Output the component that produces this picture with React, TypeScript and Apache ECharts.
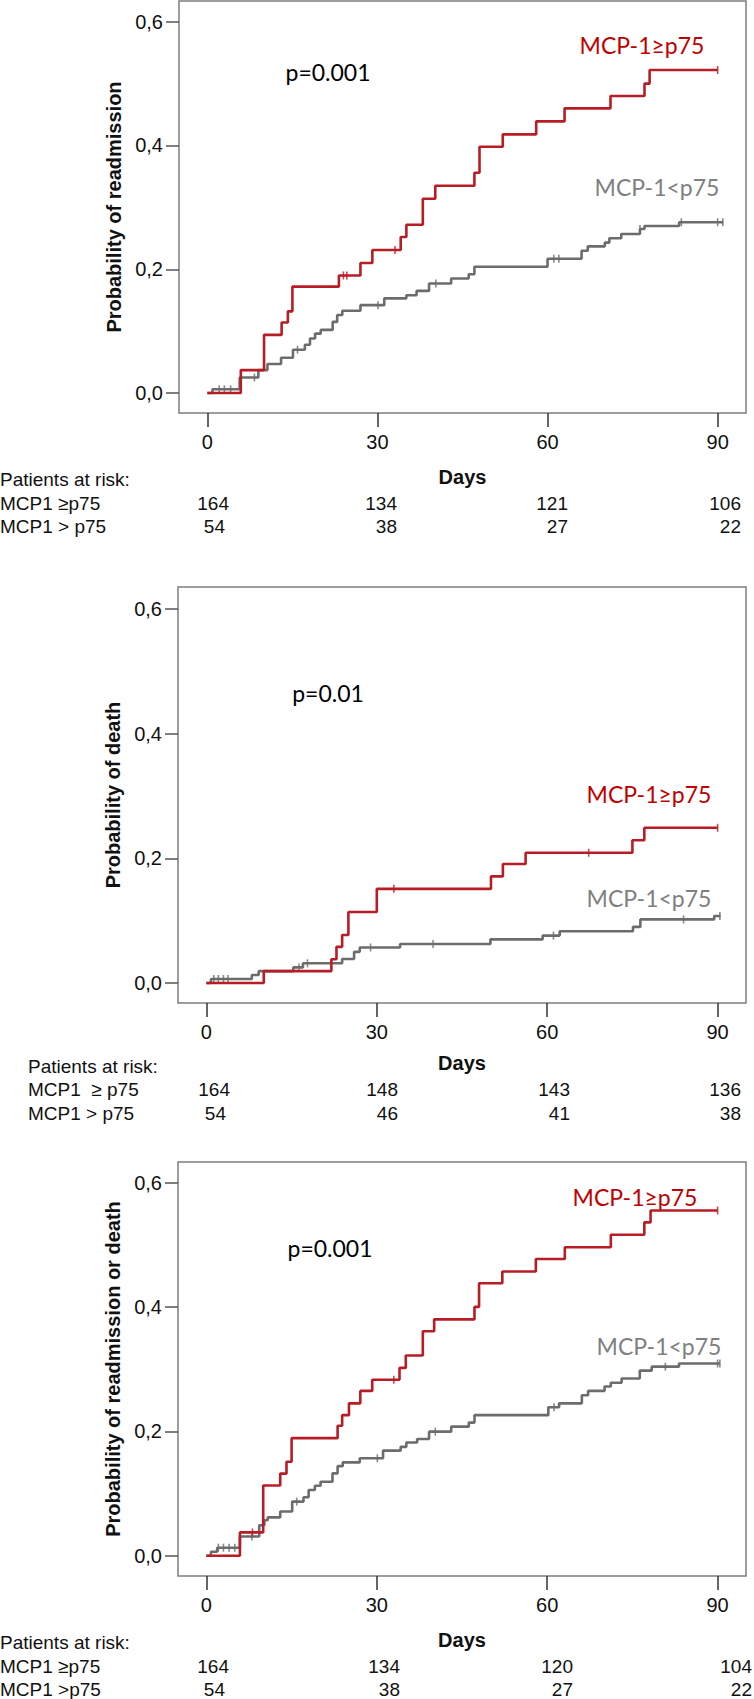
import React, { useEffect, useRef } from "react";
import * as echarts from "echarts";

// ---------- shared ticks ----------
const DAY_TICKS = [0, 30, 60, 90];
const PROB_TICKS = [0, 0.2, 0.4, 0.6];

// ---------- Panel 1: readmission ----------
const readHighT = [0, 5.9, 10, 13.1, 14.2, 15, 23.2, 27, 29.1, 34.1, 35.1, 38, 40.2, 47.1, 48, 52.1, 58, 63, 71.1, 77.1, 78, 90];
const readHighP = [0, 0.037, 0.094, 0.114, 0.132, 0.172, 0.19, 0.21, 0.231, 0.252, 0.272, 0.314, 0.335, 0.356, 0.398, 0.418, 0.439, 0.46, 0.48, 0.5, 0.522, 0.522];
const readHighCens = [24.0, 24.6, 33.1, 90];
const readLowT = [0, 0.9, 5.7, 9, 10.6, 13, 15.1, 17.2, 18.1, 19, 20, 22.1, 22.9, 23.8, 27, 31.2, 35.1, 36.9, 39.1, 43, 46.1, 47.1, 60, 66, 67.1, 70.1, 70.9, 73, 76.3, 77.1, 83.2, 91];
const readLowP = [0, 0.006, 0.025, 0.037, 0.047, 0.057, 0.07, 0.078, 0.088, 0.096, 0.102, 0.115, 0.126, 0.133, 0.142, 0.153, 0.158, 0.165, 0.177, 0.185, 0.192, 0.204, 0.217, 0.23, 0.237, 0.243, 0.25, 0.257, 0.265, 0.27, 0.276, 0.276];
const readLowCens = [2.1, 3.0, 4.1, 8.3, 15.9, 30.1, 40.3, 61.1, 62.0, 76.3, 83.6, 90, 90.9];
const riskLabels1 = ["MCP1 \u2265p75", "MCP1 > p75"];
const riskHigh1 = [164, 134, 121, 106];
const riskLow1 = [54, 38, 27, 22];

// ---------- Panel 2: death ----------
const deathHighT = [0, 10.1, 22, 22.9, 23.9, 25, 30, 50.1, 52.2, 56.2, 75, 77.1, 90];
const deathHighP = [0, 0.019, 0.038, 0.058, 0.077, 0.114, 0.151, 0.171, 0.191, 0.209, 0.229, 0.249, 0.249];
const deathHighCens = [33, 67.3, 90];
const deathLowT = [0, 0.8, 8, 9.2, 15.3, 17, 23.9, 26, 27, 34.1, 50, 59.2, 62.2, 75.1, 76.4, 89.4, 90.5];
const deathLowP = [0, 0.0064, 0.0128, 0.019, 0.025, 0.0316, 0.0385, 0.05, 0.057, 0.0626, 0.07, 0.076, 0.083, 0.09, 0.102, 0.1075, 0.1075];
const deathLowCens = [1.3, 2.1, 3.0, 3.8, 16.3, 17.8, 28.9, 39.9, 61.1, 84, 90.4];
const riskLabels2 = ["MCP1  \u2265 p75", "MCP1 > p75"];
const riskHigh2 = [164, 148, 143, 136];
const riskLow2 = [54, 46, 41, 38];

// ---------- Panel 3: readmission or death ----------
const bothHighT = [0, 5.9, 10, 13, 14.1, 15, 23.1, 23.9, 25.1, 27.1, 29.2, 34, 35.1, 38.1, 40.1, 47.2, 48, 52.1, 58, 63.1, 71.2, 77.1, 78.2, 90];
const bothHighP = [0, 0.0375, 0.113, 0.132, 0.151, 0.189, 0.209, 0.226, 0.245, 0.265, 0.283, 0.302, 0.322, 0.361, 0.38, 0.4, 0.438, 0.457, 0.477, 0.496, 0.516, 0.536, 0.555, 0.555];
const bothHighCens = [8.1, 33, 90];
const bothLowT = [0, 0.8, 1.9, 5.9, 9.3, 10.2, 10.8, 13, 15.1, 17.1, 18, 19.1, 20.1, 22.2, 23.1, 24, 27, 31.1, 34.2, 35.2, 37.1, 39.2, 43.1, 46.2, 47.2, 60.2, 62.1, 66.1, 67.2, 70.1, 71.2, 73.1, 76.3, 78.4, 83.2, 90.4];
const bothLowP = [0, 0.0064, 0.0129, 0.031, 0.049, 0.057, 0.0617, 0.071, 0.087, 0.094, 0.1056, 0.1126, 0.119, 0.1324, 0.144, 0.15, 0.1566, 0.169, 0.175, 0.182, 0.1877, 0.1995, 0.2075, 0.214, 0.226, 0.2386, 0.245, 0.258, 0.265, 0.272, 0.278, 0.285, 0.2976, 0.304, 0.309, 0.309];
const bothLowCens = [2.1, 3.0, 4.0, 5.0, 8.0, 15.9, 30.1, 40.3, 61.2, 80.8, 90, 90.4];
const riskLabels3 = ["MCP1 \u2265p75", "MCP1 >p75"];
const riskHigh3 = [164, 134, 120, 104];
const riskLow3 = [54, 38, 27, 22];

const GROUP_HIGH = "MCP-1\u2265p75";
const GROUP_LOW = "MCP-1<p75";

const RED = "#b81c24";
const GRAY = "#6c6c6c";
const RED_TXT = "#c00000";
const GRAY_TXT = "#7f7f7f";
const SANS = "'Liberation Sans', Arial, sans-serif";
const CAL = "Lato, 'Open Sans', sans-serif";

const panels = [
  {
    grid: { left: 179, top: 1, width: 567, height: 412 },
    yMin: -0.0323, yMax: 0.6335,
    yTitle: "Probability of readmission",
    pValue: "p=0.001",
    high: { t: readHighT, p: readHighP, c: readHighCens },
    low: { t: readLowT, p: readLowP, c: readLowCens },
    txt: { p: [328, 72], high: [642, 45], low: [657, 187] },
    risk: { labels: riskLabels1, high: riskHigh1, low: riskLow1, labelX: 0, cols: [229, 397, 568, 741], rows: [479, 503, 526] },
  },
  {
    grid: { left: 178, top: 587, width: 568, height: 416 },
    yMin: -0.0321, yMax: 0.6353,
    yTitle: "Probability of death",
    pValue: "p=0.01",
    high: { t: deathHighT, p: deathHighP, c: deathHighCens },
    low: { t: deathLowT, p: deathLowP, c: deathLowCens },
    txt: { p: [328, 693], high: [649, 794], low: [649, 898] },
    risk: { labels: riskLabels2, high: riskHigh2, low: riskLow2, labelX: 28, cols: [230, 398, 570, 741], rows: [1066, 1089, 1113] },
  },
  {
    grid: { left: 178, top: 1162, width: 568, height: 414 },
    yMin: -0.0326, yMax: 0.633,
    yTitle: "Probability of readmission or death",
    pValue: "p=0.001",
    high: { t: bothHighT, p: bothHighP, c: bothHighCens },
    low: { t: bothLowT, p: bothLowP, c: bothLowCens },
    txt: { p: [330, 1248], high: [635, 1197], low: [659, 1346] },
    risk: { labels: riskLabels3, high: riskHigh3, low: riskLow3, labelX: 0, cols: [229, 400, 573, 752], rows: [1642, 1666, 1689] },
  },
];

function stepValue(t: number[], p: number[], x: number): number {
  let v = p[0];
  for (let i = 0; i < t.length; i++) {
    if (t[i] <= x) v = p[i];
  }
  return v;
}

function buildOption() {
  const grid: any[] = [];
  const xAxis: any[] = [];
  const yAxis: any[] = [];
  const series: any[] = [];
  const graphic: any[] = [];

  panels.forEach((pn, i) => {
    grid.push({ ...pn.grid, show: true, borderColor: "#7d7d7d", borderWidth: 1.5, backgroundColor: "transparent", containLabel: false });
    xAxis.push({
      type: "value", gridIndex: i, min: -5, max: 95, position: "bottom",
      axisLine: { show: false, onZero: false },
      splitLine: { show: false },
      axisTick: { show: true, length: 14, customValues: DAY_TICKS, lineStyle: { color: "#333", width: 1.5 } },
      axisLabel: { customValues: DAY_TICKS, margin: 19, fontSize: 20, fontFamily: SANS, color: "#111" },
      name: "Days", nameLocation: "middle", nameGap: i === 1 ? 50 : 54,
      nameTextStyle: { fontSize: 20, fontWeight: "bold", fontFamily: SANS, color: "#111" },
    });
    yAxis.push({
      type: "value", gridIndex: i, min: pn.yMin, max: pn.yMax, position: "left",
      axisLine: { show: false, onZero: false },
      splitLine: { show: false },
      axisTick: { show: true, length: 13, customValues: PROB_TICKS, lineStyle: { color: "#555", width: 1.5 } },
      axisLabel: {
        customValues: PROB_TICKS, margin: 16, fontSize: 20, fontFamily: SANS, color: "#111",
        formatter: (v: number) => v.toFixed(1).replace(".", ","),
      },
      name: pn.yTitle, nameLocation: "middle", nameRotate: 90, nameGap: 54,
      nameTextStyle: { fontSize: 20, fontWeight: "bold", fontFamily: SANS, color: "#111" },
    });

    const groups = [
      { key: "low", name: GROUP_LOW, color: GRAY, d: pn.low },
      { key: "high", name: GROUP_HIGH, color: RED, d: pn.high },
    ];
    groups.forEach((g) => {
      series.push({
        type: "line", name: g.name, xAxisIndex: i, yAxisIndex: i, step: "end", symbol: "none",
        lineStyle: { color: g.color, width: 2.6 },
        data: g.d.t.map((t, k) => [t, g.d.p[k]]),
        z: g.key === "high" ? 4 : 3,
      });
      series.push({
        type: "scatter", name: g.name + " censored", xAxisIndex: i, yAxisIndex: i,
        symbol: "rect", symbolSize: [1.6, 8],
        itemStyle: { color: g.color },
        data: g.d.c.map((t) => [t, stepValue(g.d.t, g.d.p, t)]),
        z: g.key === "high" ? 5 : 3,
      });
    });

    // annotation texts
    graphic.push({ type: "text", x: pn.txt.p[0], y: pn.txt.p[1], style: { text: pn.pValue, fill: "#000", fontSize: 23, fontFamily: CAL, align: "center", verticalAlign: "middle" } });
    graphic.push({ type: "text", x: pn.txt.high[0], y: pn.txt.high[1], style: { text: GROUP_HIGH, fill: RED_TXT, fontSize: 23, fontFamily: CAL, align: "center", verticalAlign: "middle" } });
    graphic.push({ type: "text", x: pn.txt.low[0], y: pn.txt.low[1], style: { text: GROUP_LOW, fill: GRAY_TXT, fontSize: 23, fontFamily: CAL, align: "center", verticalAlign: "middle" } });

    // patients at risk table
    const r = pn.risk;
    const tStyle = { fill: "#111", fontSize: 19, fontFamily: SANS, verticalAlign: "middle" };
    graphic.push({ type: "text", x: r.labelX, y: r.rows[0], style: { ...tStyle, text: "Patients at risk:", align: "left" } });
    graphic.push({ type: "text", x: r.labelX, y: r.rows[1], style: { ...tStyle, text: r.labels[0], align: "left" } });
    graphic.push({ type: "text", x: r.labelX, y: r.rows[2], style: { ...tStyle, text: r.labels[1], align: "left" } });
    r.high.forEach((v, k) => {
      graphic.push({ type: "text", x: r.cols[k], y: r.rows[1], style: { ...tStyle, text: String(v), align: "right" } });
    });
    r.low.forEach((v, k) => {
      graphic.push({ type: "text", x: r.cols[k] - (k === 0 ? 4 : 0), y: r.rows[2], style: { ...tStyle, text: String(v), align: "right" } });
    });
  });

  return { animation: false, backgroundColor: "#fff", grid, xAxis, yAxis, series, graphic };
}

export default function App() {
  const ref = useRef<HTMLDivElement>(null);
  useEffect(() => {
    if (!ref.current) return;
    const chart = echarts.init(ref.current, null, { renderer: "svg" });
    chart.setOption(buildOption() as any);
    return () => chart.dispose();
  }, []);
  return <div ref={ref} style={{ position: "absolute", left: 0, top: 0, width: 754, height: 1699 }} />;
}
